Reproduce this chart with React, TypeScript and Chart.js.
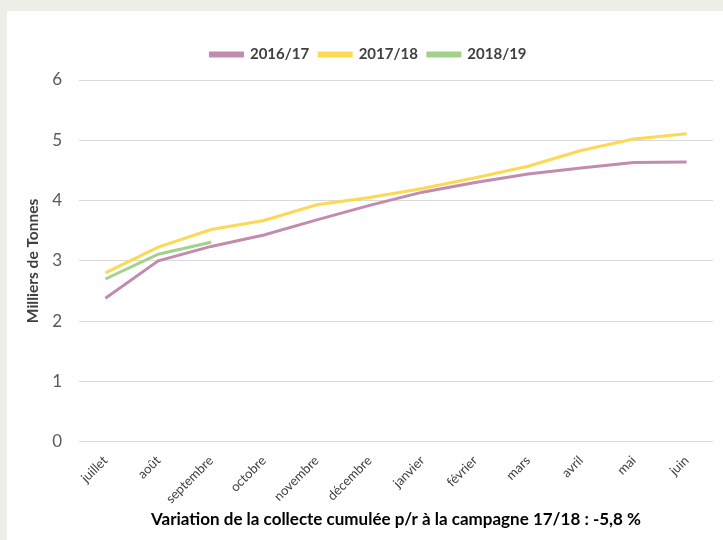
import React, { useEffect, useRef } from "react";
import { Chart, registerables } from "chart.js";

Chart.register(...registerables);

const months = ["juillet", "août", "septembre", "octobre", "novembre", "décembre", "janvier", "février", "mars", "avril", "mai", "juin"];
const s1617 = [2.38, 3.0, 3.24, 3.43, 3.68, 3.92, 4.14, 4.3, 4.44, 4.54, 4.63, 4.64];
const s1718 = [2.8, 3.23, 3.52, 3.67, 3.93, 4.05, 4.2, 4.38, 4.57, 4.83, 5.02, 5.11];
const s1819 = [2.7, 3.11, 3.31];
const yTicks = [0, 1, 2, 3, 4, 5, 6];

const FONT = "Lato, 'Open Sans', sans-serif";

const legendGap = {
  id: "legendGap",
  beforeInit(chart: any) {
    const legend = chart.legend;
    if (!legend) return;
    const orig = legend.fit;
    legend.fit = function () {
      orig.call(this);
      this.height += 8;
    };
  },
};

export default function App() {
  const ref = useRef<HTMLCanvasElement>(null);
  useEffect(() => {
    document.body.style.margin = "0";
    document.body.style.background = "#eeeee8";
    const ctx = ref.current!.getContext("2d")!;
    const chart = new Chart(ctx, {
      type: "line",
      data: {
        labels: months,
        datasets: [
          { label: "2016/17", data: s1617, borderColor: "#c28cb0", backgroundColor: "#c28cb0", borderWidth: 3, pointRadius: 0, tension: 0 },
          { label: "2017/18", data: s1718, borderColor: "#fcd955", backgroundColor: "#fcd955", borderWidth: 3, pointRadius: 0, tension: 0 },
          { label: "2018/19", data: s1819, borderColor: "#a4d18a", backgroundColor: "#a4d18a", borderWidth: 3, pointRadius: 0, tension: 0 },
        ],
      },
      options: {
        animation: false,
        responsive: false,
        layout: { padding: { left: 17, right: 10, top: 26, bottom: 10 } },
        plugins: {
          tooltip: { enabled: false },
          legend: {
            position: "top",
            labels: {
              boxWidth: 32,
              boxHeight: 3,
              padding: 10,
              color: "#404040",
              font: { family: FONT, size: 15, weight: "bold" },
            },
          },
        },
        scales: {
          x: {
            offset: true,
            afterFit: (axis: any) => {
              axis.paddingLeft = 0;
              axis.paddingRight = 0;
            },
            grid: { display: false, drawTicks: false },
            border: { display: false },
            ticks: {
              minRotation: 45,
              maxRotation: 45,
              padding: 11,
              color: "#404040",
              font: { family: FONT, size: 13 },
            },
            title: {
              display: true,
              text: "Variation de la collecte cumulée p/r à la campagne 17/18 : -5,8 %",
              color: "#000000",
              font: { family: FONT, size: 17, weight: "bold" },
              padding: { top: -8, bottom: 0 },
            },
          },
          y: {
            min: 0,
            max: 6,
            afterBuildTicks: (axis: any) => {
              axis.ticks = yTicks.map((v) => ({ value: v }));
            },
            afterFit: (axis: any) => {
              axis.width = 55;
            },
            grid: { color: "#d9d9d9", lineWidth: 1, drawTicks: false },
            border: { display: false },
            ticks: {
              padding: 17,
              color: "#595959",
              font: { family: FONT, size: 17 },
            },
            title: {
              display: true,
              text: "Milliers de Tonnes",
              color: "#404040",
              font: { family: FONT, size: 15.5, weight: "bold" },
              padding: { top: 0, bottom: 9 },
            },
          },
        },
      },
      plugins: [legendGap],
    });
    return () => chart.destroy();
  }, []);
  return (
    <div style={{ marginLeft: 7, marginTop: 11, width: 716, height: 529, background: "#ffffff" }}>
      <canvas ref={ref} width={716} height={529} style={{ display: "block" }} />
    </div>
  );
}
